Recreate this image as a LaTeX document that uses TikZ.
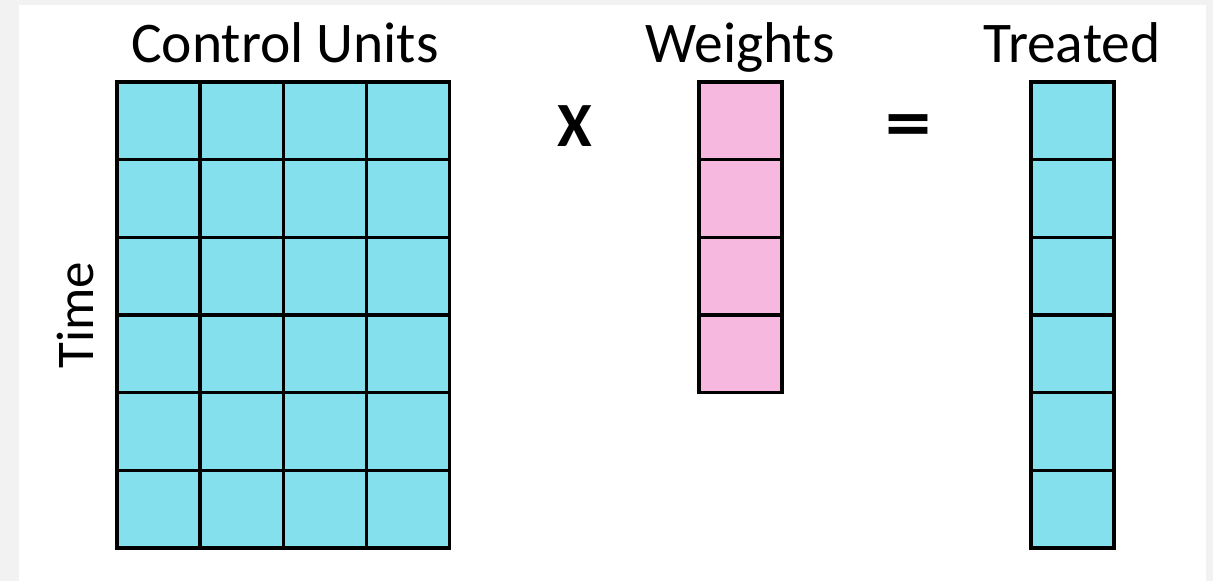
\documentclass[tikz,border=0pt]{standalone}
\usepackage{fontspec}
\setmainfont{Carlito}
\definecolor{bgray}{HTML}{F2F2F2}
\definecolor{cyanc}{HTML}{85E0EE}
\definecolor{pinkc}{HTML}{F7B8E0}
\begin{document}
\begin{tikzpicture}[x=1pt,y=-1pt,
  cell/.style={draw=black,line width=3.2pt,minimum width=83pt,minimum height=77.7pt,inner sep=0pt,outer sep=0pt,anchor=north west},
  ccell/.style={cell,fill=cyanc},
  pcell/.style={cell,fill=pinkc},
  lab/.style={font=\fontsize{57.5}{62}\selectfont,inner sep=0pt}]
\useasboundingbox (0,0) rectangle (1213,581);
\fill[bgray] (0,0) rectangle (1213,581);
\fill[white] (19,5) rectangle (1206,581);
\foreach \r in {0,...,5}{
  \foreach \c in {0,...,3}{
    \node[ccell] (cu-\r-\c) at ({117+83.25*\c},{82+77.67*\r}) {};
  }
  \node[ccell] (tr-\r) at (1031,{82+77.67*\r}) {};
}
\foreach \r in {0,...,3}{
  \node[pcell] (w-\r) at (699,{82+77.67*\r}) {};
}
\node[lab,anchor=base] (tcu) at (285,62) {Control Units};
\node[lab,anchor=base] (tw) at (740,62) {Weights};
\node[lab,anchor=base] (ttr) at (1072,62) {Treated};
\node[lab,anchor=base,font=\fontsize{63}{66}\selectfont\bfseries] (tx) at (575,146) {X};
\node[lab,anchor=center,xscale=1.4,yscale=1.15,font=\fontsize{66}{70}\selectfont\bfseries] (teq) at (908,132) {=};
\node[lab,anchor=base,rotate=90,font=\fontsize{53}{58}\selectfont] (ttime) at (93,315) {Time};
\end{tikzpicture}
\end{document}
